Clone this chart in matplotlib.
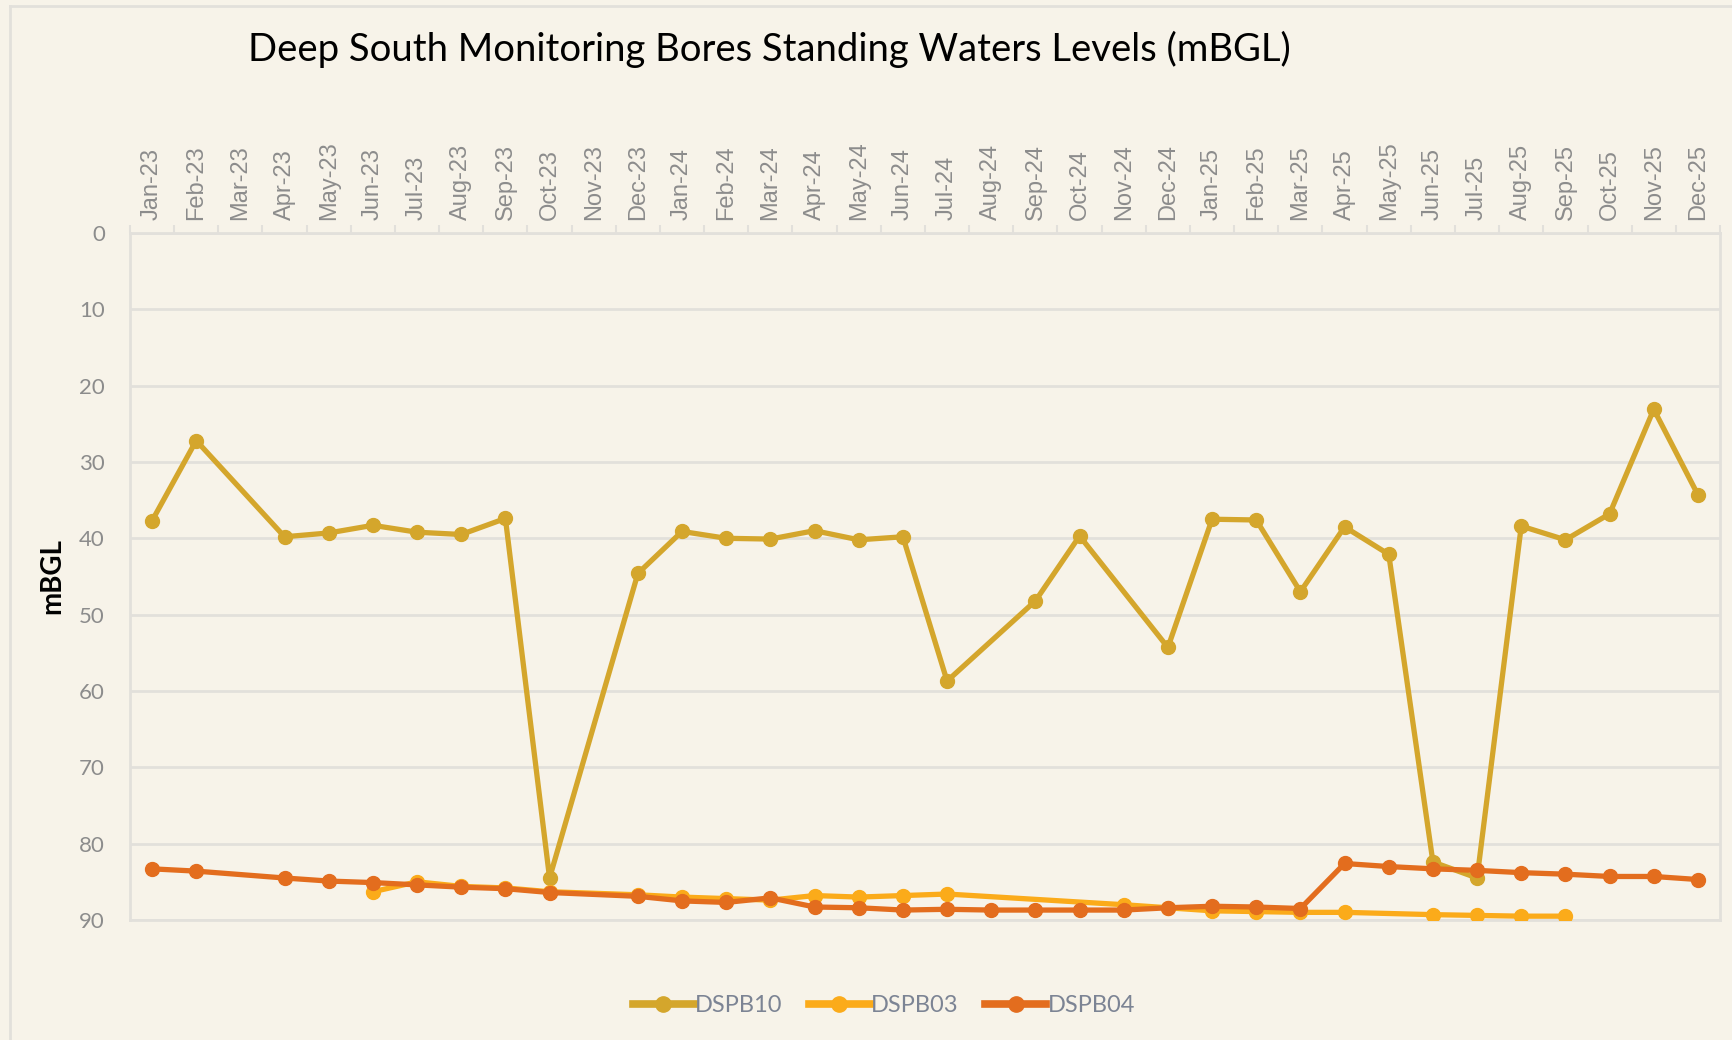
import numpy as np
import matplotlib

matplotlib.use("Agg")
import matplotlib.pyplot as plt
from matplotlib.lines import Line2D

BG = "#F7F3E9"
GRID = "#E2E0DB"
TICK_TEXT = "#8C8C8C"
LEGEND_TEXT = "#7C8494"

months = [
    "Jan-23", "Feb-23", "Mar-23", "Apr-23", "May-23", "Jun-23", "Jul-23", "Aug-23", "Sep-23",
    "Oct-23", "Nov-23", "Dec-23", "Jan-24", "Feb-24", "Mar-24", "Apr-24", "May-24", "Jun-24",
    "Jul-24", "Aug-24", "Sep-24", "Oct-24", "Nov-24", "Dec-24", "Jan-25", "Feb-25", "Mar-25",
    "Apr-25", "May-25", "Jun-25", "Jul-25", "Aug-25", "Sep-25", "Oct-25", "Nov-25", "Dec-25",
]

nan = np.nan
# standing water level, metres below ground level (NaN = no reading)
dspb10 = [
    37.7, 27.2, nan, 39.8, 39.3, 38.3, 39.2, 39.5, 37.4,
    84.5, nan, 44.6, 39.1, 40.0, 40.1, 39.0, 40.2, 39.8,
    58.7, nan, 48.2, 39.7, nan, 54.3, 37.5, 37.6, 47.0,
    38.5, 42.1, 82.4, 84.5, 38.4, 40.2, 36.8, 23.1, 34.3,
]
dspb03 = [
    nan, nan, nan, nan, nan, 86.3, 85.0, 85.6, 85.8,
    86.3, nan, 86.7, 87.0, 87.2, 87.4, 86.8, 87.0, 86.8,
    86.6, nan, nan, nan, 88.0, 88.4, 88.8, 88.9, 89.0,
    89.0, nan, 89.3, 89.4, 89.5, 89.5, nan, nan, nan,
]
dspb04 = [
    83.3, 83.6, nan, 84.5, 84.9, 85.1, 85.4, 85.7, 85.9,
    86.4, nan, 86.9, 87.5, 87.7, 87.1, 88.3, 88.4, 88.7,
    88.6, 88.7, 88.7, 88.7, 88.7, 88.4, 88.2, 88.3, 88.5,
    82.6, 83.0, 83.3, 83.5, 83.8, 84.0, 84.3, 84.3, 84.7,
]

series = [
    ("DSPB10", dspb10, "#D4A62C"),
    ("DSPB03", dspb03, "#FBAB1A"),
    ("DSPB04", dspb04, "#E36D1E"),
]

plt.rcParams["font.family"] = ["Lato", "DejaVu Sans"]

fig = plt.figure(figsize=(17.33, 10.40), dpi=100, facecolor=BG)
ax = fig.add_axes([0.075, 0.1154, 0.9175, 0.6606])
ax.set_facecolor(BG)

x = np.arange(len(months))
for name, vals, color in series:
    v = np.array(vals, dtype=float)
    ok = ~np.isnan(v)
    ax.plot(x[ok], v[ok], color=color, linewidth=3.8, marker="o", markersize=10,
            solid_joinstyle="round", label=name, zorder=3)

ax.set_xlim(-0.5, len(months) - 0.5)
ax.set_ylim(90, 0)
ax.set_yticks(np.arange(0, 91, 10))
ax.tick_params(axis="y", length=0, labelsize=16, labelcolor=TICK_TEXT, pad=18)
ax.grid(True, axis="y", color=GRID, linewidth=2)
ax.set_axisbelow(True)

ax.xaxis.tick_top()
ax.set_xticks(x)
ax.set_xticklabels(months, rotation=90, fontsize=17, color=TICK_TEXT,
                   family=["Liberation Sans", "DejaVu Sans"])
ax.tick_params(axis="x", which="major", length=0, pad=9)
ax.set_xticks(np.arange(-0.5, len(months), 1.0), minor=True)
ax.tick_params(axis="x", which="minor", length=6, width=1.5, color=GRID, top=True, bottom=False)

for side in ["top", "bottom", "left", "right"]:
    ax.spines[side].set_color(GRID)
    ax.spines[side].set_linewidth(2)

ax.set_ylabel("mBGL", fontsize=20, fontweight="bold", color="black", labelpad=10)

fig.text(0.444, 0.952, "Deep South Monitoring Bores Standing Waters Levels (mBGL)",
         fontsize=27.5, color="black", ha="center", va="center")

leg = fig.legend(loc="center", bbox_to_anchor=(0.51, 0.033), ncol=3, frameon=False,
                 fontsize=17, handlelength=2.6, handletextpad=0.05, columnspacing=1.1)
for t in leg.get_texts():
    t.set_color(LEGEND_TEXT)
for h in leg.legend_handles:
    h.set_linewidth(5.5)
    h.set_markersize(11)

# thin frame visible at the top-left of the original card
fig.add_artist(Line2D([10 / 1733, 10 / 1733], [0, 1 - 6 / 1040], transform=fig.transFigure,
                      color=GRID, linewidth=2))
fig.add_artist(Line2D([10 / 1733, 1], [1 - 6 / 1040, 1 - 6 / 1040], transform=fig.transFigure,
                      color=GRID, linewidth=2))

fig.savefig("out.png", dpi=100, facecolor=BG)
